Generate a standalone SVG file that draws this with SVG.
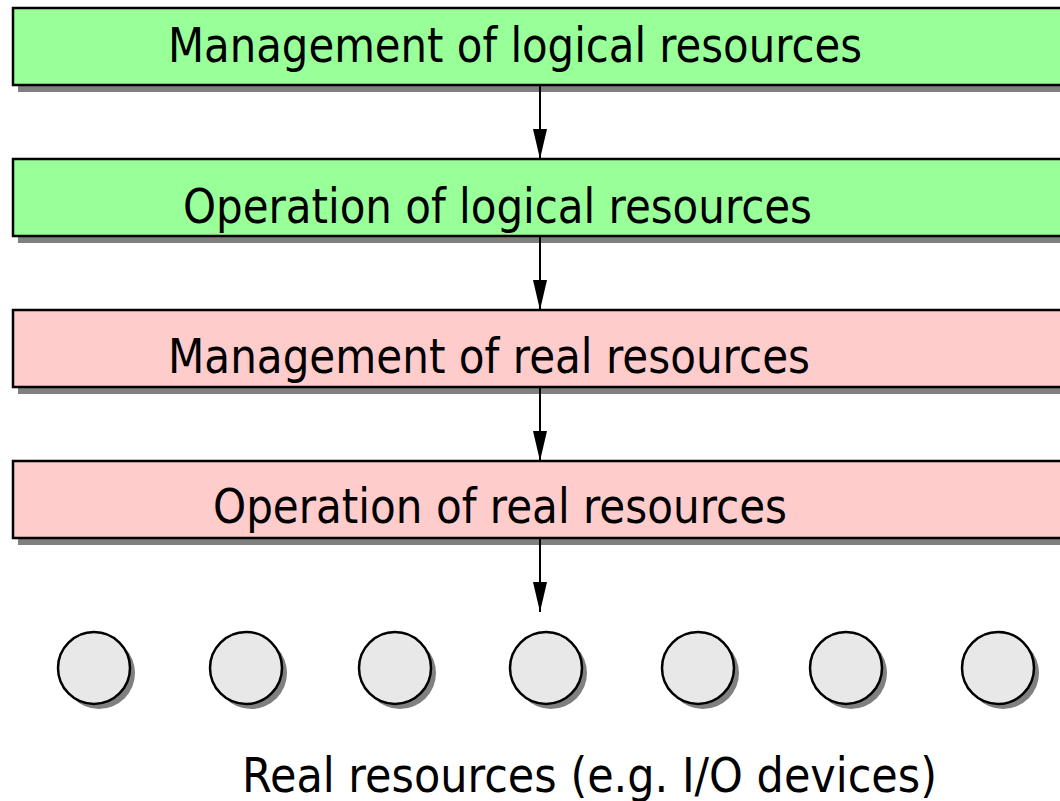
<svg xmlns="http://www.w3.org/2000/svg" width="1060" height="801" viewBox="0 0 1060 801">
<style>
  .shadow { fill: #808080; }
  .box { stroke: #000; stroke-width: 2.5; }
  .green { fill: #99FF99; }
  .pink { fill: #FFCCCC; }
  .res { fill: #E8E8E8; stroke: #000; stroke-width: 2.5; }
  .lbl { font-family: "DejaVu Sans", Tahoma, sans-serif; font-size: 48px; fill: #000; }
  .conn { stroke: #000; stroke-width: 2; fill: none; }
</style>
<defs>
  <marker id="arr" markerUnits="userSpaceOnUse" markerWidth="31" markerHeight="14" refX="30" refY="7" orient="auto" viewBox="0 0 31 14">
    <path d="M0,0 L30,7 L0,14 Z" fill="#000"/>
  </marker>
</defs>
<rect width="1060" height="801" fill="#fff"/>
<g id="node-mgmt-logical">
  <rect class="shadow" x="18" y="14" width="1050" height="78"/>
  <rect class="box green" x="13" y="8" width="1060" height="77"/>
  <text class="lbl" x="168" y="62" textLength="694" lengthAdjust="spacingAndGlyphs">Management of logical resources</text>
</g>
<g id="node-op-logical">
  <rect class="shadow" x="18" y="165" width="1050" height="78"/>
  <rect class="box green" x="13" y="159" width="1060" height="77"/>
  <text class="lbl" x="183" y="223" textLength="629" lengthAdjust="spacingAndGlyphs">Operation of logical resources</text>
</g>
<g id="node-mgmt-real">
  <rect class="shadow" x="18" y="316" width="1050" height="78"/>
  <rect class="box pink" x="13" y="310" width="1060" height="77"/>
  <text class="lbl" x="168" y="373" textLength="642" lengthAdjust="spacingAndGlyphs">Management of real resources</text>
</g>
<g id="node-op-real">
  <rect class="shadow" x="18" y="467" width="1050" height="78"/>
  <rect class="box pink" x="13" y="461" width="1060" height="77"/>
  <text class="lbl" x="213" y="523" textLength="574" lengthAdjust="spacingAndGlyphs">Operation of real resources</text>
</g>
<g id="connectors">
  <line class="conn" x1="540" y1="85" x2="540" y2="159" marker-end="url(#arr)"/>
  <line class="conn" x1="540" y1="236" x2="540" y2="310" marker-end="url(#arr)"/>
  <line class="conn" x1="540" y1="387" x2="540" y2="461" marker-end="url(#arr)"/>
  <line class="conn" x1="540" y1="538" x2="540" y2="612" marker-end="url(#arr)"/>
</g>
<g id="node-resources">
  <circle class="shadow" cx="99" cy="673" r="36"/>
  <circle class="res" cx="94" cy="668" r="36"/>
  <circle class="shadow" cx="251" cy="673" r="36"/>
  <circle class="res" cx="246" cy="668" r="36"/>
  <circle class="shadow" cx="400" cy="673" r="36"/>
  <circle class="res" cx="395" cy="668" r="36"/>
  <circle class="shadow" cx="551" cy="673" r="36"/>
  <circle class="res" cx="546" cy="668" r="36"/>
  <circle class="shadow" cx="703" cy="673" r="36"/>
  <circle class="res" cx="698" cy="668" r="36"/>
  <circle class="shadow" cx="851" cy="673" r="36"/>
  <circle class="res" cx="846" cy="668" r="36"/>
  <circle class="shadow" cx="1003" cy="673" r="36"/>
  <circle class="res" cx="998" cy="668" r="36"/>
  <text class="lbl" x="242" y="792" textLength="695" lengthAdjust="spacingAndGlyphs">Real resources (e.g. I/O devices)</text>
</g>
</svg>
